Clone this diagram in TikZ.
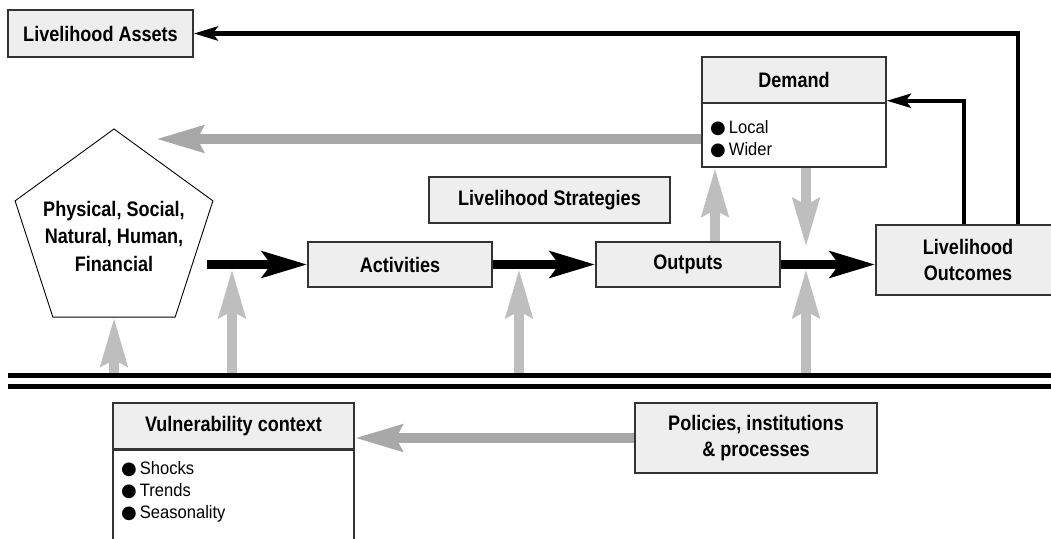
\documentclass[tikz,border=0pt]{standalone}
\usepackage{fontspec}
\setmainfont{Liberation Sans}[FakeStretch=0.86]
\newfontfamily\listfont{Liberation Sans}[FakeStretch=0.92]
\newfontfamily\symfont{DejaVu Sans}
\usetikzlibrary{arrows.meta,shapes.geometric}
\definecolor{boxfill}{HTML}{EEEEEE}
\definecolor{boxline}{HTML}{333333}
\definecolor{flowgray}{HTML}{A8A8A8}
\definecolor{riseray}{HTML}{BEBEBE}
\tikzset{
  titlebox/.style={draw=boxline, line width=1.5pt, fill=boxfill, inner sep=0pt,
    font=\fontsize{21}{26}\selectfont\bfseries, align=center},
  listbox/.style={draw=boxline, line width=1.5pt, fill=white, inner sep=0pt},
  listtext/.style={font=\listfont\fontsize{18}{22}\selectfont, align=left, anchor=west, inner sep=0pt},
  mainflow/.style={line width=9pt, -{Stealth[length=45pt,width=26pt,inset=9pt]}},
  feedback/.style={line width=4.5pt, -{Stealth[length=24pt,width=14pt,inset=5pt]}},
  grayflow/.style={line width=10pt, flowgray, -{Stealth[length=47pt,width=26pt,inset=6pt]}},
  grayrise/.style={line width=10pt, riseray, -{Stealth[length=48pt,width=26pt,inset=6pt]}},
  divider/.style={line width=5pt, black}
}
\newcommand{\bul}{{\symfont\fontsize{18}{22}\selectfont ●}\kern3pt}
\begin{document}
\begin{tikzpicture}[x=1pt, y=-1pt]
\useasboundingbox (0,0) rectangle (1051,538);

% boxes
\node[titlebox, minimum width=185pt, minimum height=47pt] (assets) at (100.5,33.5) {Livelihood Assets};
\node[titlebox, minimum width=184pt, minimum height=46pt] (dtitle) at (794,80) {Demand};
\node[listbox, minimum width=184pt, minimum height=64pt] (dlist) at (794,135) {};
\node[listtext] (dtext) at (710,139.5) {\bul Local\\\bul Wider};
\node[titlebox, minimum width=241pt, minimum height=46pt] (strat) at (549.5,200) {Livelihood Strategies};
\node[titlebox, minimum width=184pt, minimum height=45pt] (act) at (400,264.5) {Activities};
\node[titlebox, minimum width=184pt, minimum height=45pt] (outp) at (688,264.5) {Outputs};
\node[titlebox, minimum width=184pt, minimum height=70pt] (outc) at (968,260) {Livelihood\\Outcomes};
\node[titlebox, minimum width=241pt, minimum height=46pt] (vtitle) at (233.5,426) {Vulnerability context};
\node[listbox, minimum width=241pt, minimum height=111pt, anchor=north] (vlist) at (233.5,449) {};
\node[listtext] (vtext) at (121,492) {\bul Shocks\\\bul Trends\\\bul Seasonality};
\node[titlebox, minimum width=242pt, minimum height=70pt] (pol) at (756,438) {Policies, institutions\\\& processes};

% capital assets pentagon
\node[draw, line width=0.9pt, regular polygon, regular polygon sides=5,
      minimum size=208pt, inner sep=0pt] (pent) at (114,233) {};
\node[font=\fontsize{21}{27.5}\selectfont\bfseries, align=center] (ptext) at (114,236)
  {Physical, Social,\\Natural, Human,\\Financial};

% free ends of connectors
\coordinate (pstart) at (207,264.5);
\coordinate (backtip) at (156,139);
\coordinate (droptip) at (806,247);

% gray influences rising from the institutional line
\draw[grayrise] (114,373) -- (pent.side 3);
\draw[grayrise] (232,373) -- (232,269);
\draw[grayrise] (519,373) -- (519,269);
\draw[grayrise] (806,373) -- (806,269);
\draw[grayrise] (dlist.south -| droptip) -- (droptip);
\draw[grayrise] ([xshift=27pt]outp.north) -- ([xshift=27pt]outp.north |- dlist.south);

% horizontal gray flows
\draw[grayflow] (dlist.west |- backtip) -- (backtip);
\draw[grayflow] (pol.west) -- (pol.west -| vtitle.east);

% main chain
\draw[mainflow] (pstart) -- (act.west);
\draw[mainflow] (act.east) -- (outp.west);
\draw[mainflow] (outp.east) -- (outp.east -| outc.west);

% feedback loops
\draw[feedback] ([xshift=-4pt]outc.north) |- ([yshift=3pt]dtitle.south east);
\draw[feedback] ([xshift=50pt]outc.north) |- (assets.east);

% double line between the livelihood chain and its context
\draw[divider] (8,375) -- (1060,375);
\draw[divider] (8,386) -- (1060,386);
\end{tikzpicture}
\end{document}
